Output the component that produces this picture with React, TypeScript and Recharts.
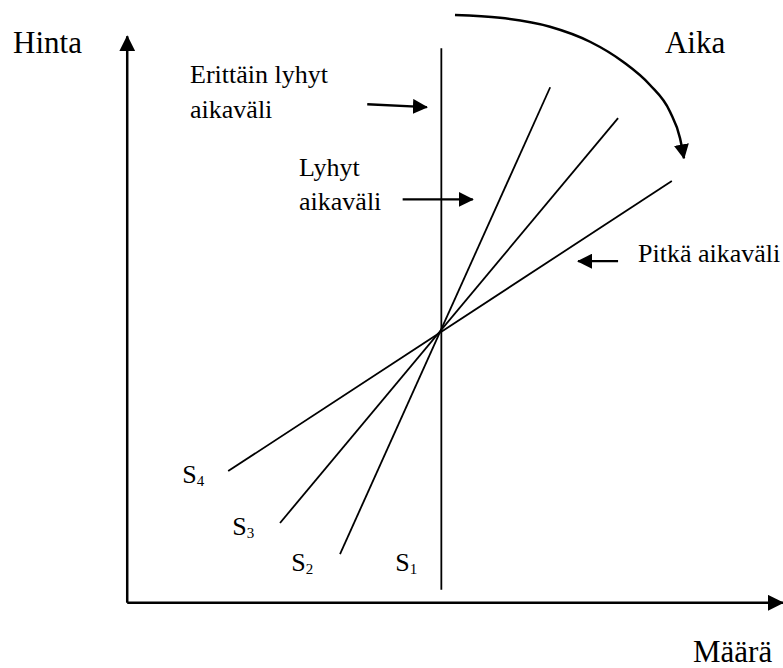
import { ComposedChart, Line, Scatter, XAxis, YAxis } from "recharts";

// units: origin where the two axes meet, axis tips at 100
const priceAxis = [{ x: 0, y: 0 }, { x: 0, y: 100 }];
const quantityAxis = [{ x: 0, y: 0 }, { x: 100, y: 0 }];

const s1 = [{ x: 47.9, y: 2.3 }, { x: 47.9, y: 97.9 }];
const s2 = [{ x: 32.45, y: 8.6 }, { x: 64.5, y: 91.0 }];
const s3 = [{ x: 23.3, y: 14.1 }, { x: 74.85, y: 85.55 }];
const s4 = [{ x: 15.4, y: 23.25 }, { x: 83.05, y: 74.45 }];

const timeArc = [
  { x: 49.98, y: 103.74 },
  { x: 56.85, y: 103.26 },
  { x: 64.47, y: 101.68 },
  { x: 70.57, y: 99.03 },
  { x: 75.6, y: 95.5 },
  { x: 79.72, y: 91.39 },
  { x: 82.77, y: 86.67 },
  { x: 84.3, y: 82.0 },
  { x: 84.9, y: 78.46 },
];

const pointerVeryShort = [{ x: 36.6, y: 88.0 }, { x: 45.7, y: 87.5 }];
const pointerShort = [{ x: 42.0, y: 71.2 }, { x: 52.7, y: 71.2 }];
const pointerLong = [{ x: 74.85, y: 60.3 }, { x: 68.75, y: 60.3 }];

const axisTitles = [
  { text: "Hinta", x: -17.4, y: 97.0 },
  { text: "Aika", x: 81.99, y: 97.03 },
  { text: "Määrä", x: 86.28, y: -10.5 },
];

const notes = [
  { text: "Erittäin lyhyt", x: 9.58, y: 91.72 },
  { text: "aikaväli", x: 9.58, y: 85.55 },
  { text: "Lyhyt", x: 26.2, y: 75.3 },
  { text: "aikaväli", x: 26.2, y: 69.3 },
  { text: "Pitkä aikaväli", x: 77.89, y: 60.15 },
];

const supplyNames = [
  { text: "S", sub: "4", x: 8.38, y: 21.15 },
  { text: "S", sub: "3", x: 16.01, y: 11.97 },
  { text: "S", sub: "2", x: 25.0, y: 5.61 },
  { text: "S", sub: "1", x: 40.86, y: 5.61 },
];

const FONT = "'Liberation Serif', 'Times New Roman', serif";

const textShape = (size: number) => (props: any) => (
  <text x={props.cx} y={props.cy} fontSize={size} fontFamily={FONT} style={{ fontFamily: FONT }} fill="#000">
    {props.payload.text}
    {props.payload.sub && (
      <tspan fontSize={15} dy={3}>
        {props.payload.sub}
      </tspan>
    )}
  </text>
);

export default function App() {
  const plain = { dot: false, activeDot: false, isAnimationActive: false, stroke: "#000", type: "linear" as const };
  return (
    <div style={{ position: "absolute", left: 0, top: 0, background: "#fff" }}>
      <ComposedChart width={783} height={668} margin={{ top: 0, right: 0, bottom: 0, left: 0 }}>
        <defs>
          <marker id="headBig" viewBox="0 0 16 16" refX="15" refY="8" markerWidth="16" markerHeight="16" markerUnits="userSpaceOnUse" orient="auto">
            <path d="M0,0 L16,8 L0,16 Z" fill="#000" />
          </marker>
          <marker id="headSmall" viewBox="0 0 15 15" refX="14" refY="7.5" markerWidth="15" markerHeight="15" markerUnits="userSpaceOnUse" orient="auto">
            <path d="M0,0 L15,7.5 L0,15 Z" fill="#000" />
          </marker>
        </defs>
        <XAxis type="number" dataKey="x" domain={[-19.4, 100]} allowDataOverflow hide />
        <YAxis type="number" dataKey="y" domain={[-11.5, 106.4]} allowDataOverflow hide />

        <Line {...plain} data={priceAxis} dataKey="y" strokeWidth={2.5} markerEnd="url(#headBig)" />
        <Line {...plain} data={quantityAxis} dataKey="y" strokeWidth={2.5} markerEnd="url(#headBig)" />

        <Line {...plain} data={s1} dataKey="y" strokeWidth={1.8} />
        <Line {...plain} data={s2} dataKey="y" strokeWidth={1.8} />
        <Line {...plain} data={s3} dataKey="y" strokeWidth={1.8} />
        <Line {...plain} data={s4} dataKey="y" strokeWidth={1.8} />

        <Line {...plain} type="monotone" data={timeArc} dataKey="y" strokeWidth={2.5} markerEnd="url(#headSmall)" />

        <Line {...plain} data={pointerVeryShort} dataKey="y" strokeWidth={2.3} markerEnd="url(#headSmall)" />
        <Line {...plain} data={pointerShort} dataKey="y" strokeWidth={2.3} markerEnd="url(#headSmall)" />
        <Line {...plain} data={pointerLong} dataKey="y" strokeWidth={2.3} markerEnd="url(#headSmall)" />

        <Scatter data={axisTitles} isAnimationActive={false} shape={textShape(31)} />
        <Scatter data={notes} isAnimationActive={false} shape={textShape(26)} />
        <Scatter data={supplyNames} isAnimationActive={false} shape={textShape(26)} />
      </ComposedChart>
    </div>
  );
}
